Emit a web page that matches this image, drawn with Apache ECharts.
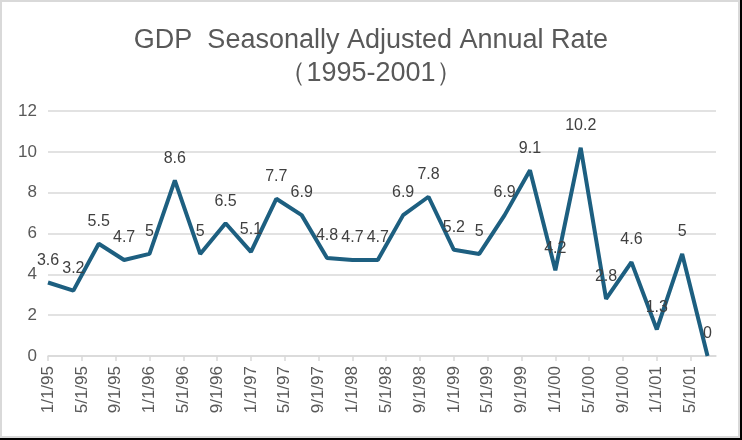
<!DOCTYPE html>
<html>
<head>
<meta charset="utf-8">
<script src="https://cdn.jsdelivr.net/npm/echarts@6/dist/echarts.min.js"></script>
<style>
  html, body { margin: 0; padding: 0; background: #000; }
  #frame { position: absolute; left: 0; top: 0; width: 736px; height: 434px; background: #fff; border: 2px solid #d9d9d9; }
  #main { width: 742px; height: 440px; position: absolute; left: 0; top: 0; }
</style>
</head>
<body>
<div id="frame"></div>
<div id="main"></div>
<script>
// quarterly dates (m/d/yy) and GDP values
var quarters = [
  '1/1/95', '4/1/95', '7/1/95', '10/1/95',
  '1/1/96', '4/1/96', '7/1/96', '10/1/96',
  '1/1/97', '4/1/97', '7/1/97', '10/1/97',
  '1/1/98', '4/1/98', '7/1/98', '10/1/98',
  '1/1/99', '4/1/99', '7/1/99', '10/1/99',
  '1/1/00', '4/1/00', '7/1/00', '10/1/00',
  '1/1/01', '4/1/01', '7/1/01'
]
var gdp = [
  3.6, 3.2, 5.5, 4.7,
  5, 8.6, 5, 6.5,
  5.1, 7.7, 6.9, 4.8,
  4.7, 4.7, 6.9, 7.8,
  5.2, 5, 6.9, 9.1,
  4.2, 10.2, 2.8, 4.6,
  1.3, 5, 0
]
var yTicks = [0, 2, 4, 6, 8, 10, 12]

// months since Jan 1995
function monthIndex(s) {
  var p = s.split('/')
  var yy = parseInt(p[2])
  var year = yy < 50 ? 2000 + yy : 1900 + yy
  return (year - 1995) * 12 + (parseInt(p[0]) - 1)
}
function monthLabel(v) {
  var m = (v % 12) + 1
  var y = (1995 + Math.floor(v / 12)) % 100
  return m + '/1/' + (y < 10 ? '0' + y : y)
}

var data = quarters.map(function(q, i) {
  return [monthIndex(q), gdp[i]]
})

var font = 'Liberation Sans, Arial, sans-serif'
var chart = echarts.init(document.getElementById('main'))
var option = {
  backgroundColor: 'transparent',
  title: {
    text: 'GDP  Seasonally Adjusted Annual Rate\n（1995-2001）',
    left: 'center',
    top: 19,
    textStyle: {
      fontFamily: font,
      fontSize: 27,
      fontWeight: 'normal',
      color: '#595959',
      lineHeight: 33,
    },
  },
  grid: {
    left: 48,
    right: 26,
    top: 111,
    bottom: 84,
  },
  xAxis: {
    type: 'value',
    min: 0,
    max: 79,
    interval: 4,
    axisLine: { show: true, lineStyle: { color: '#d9d9d9', width: 1.5 } },
    axisTick: { show: true, length: 5, lineStyle: { color: '#d9d9d9', width: 1.5 } },
    splitLine: { show: false },
    axisLabel: {
      rotate: 90,
      margin: 10,
      fontSize: 17,
      fontFamily: font,
      color: '#595959',
      showMaxLabel: false,
      formatter: function(v) {
        return monthLabel(v)
      },
    },
  },
  yAxis: {
    type: 'value',
    min: yTicks[0],
    max: yTicks[yTicks.length - 1],
    interval: 2,
    axisLine: { show: false },
    axisTick: { show: false },
    splitLine: { lineStyle: { color: '#d9d9d9', width: 1.5 } },
    axisLabel: {
      margin: 11,
      fontSize: 17,
      fontFamily: font,
      color: '#595959',
    },
  },
  series: [
    {
      type: 'line',
      data: data,
      symbol: 'circle',
      symbolSize: 0.1,
      lineStyle: { color: '#1d5f80', width: 4 },
      itemStyle: { color: '#1d5f80' },
      label: {
        show: true,
        position: 'top',
        distance: 14,
        fontSize: 16,
        fontFamily: font,
        color: '#404040',
        formatter: function(p) {
          return p.value[1]
        },
      },
      labelLayout: { hideOverlap: false },
      animation: false,
    },
  ],
}
chart.setOption(option)
</script>
</body>
</html>
